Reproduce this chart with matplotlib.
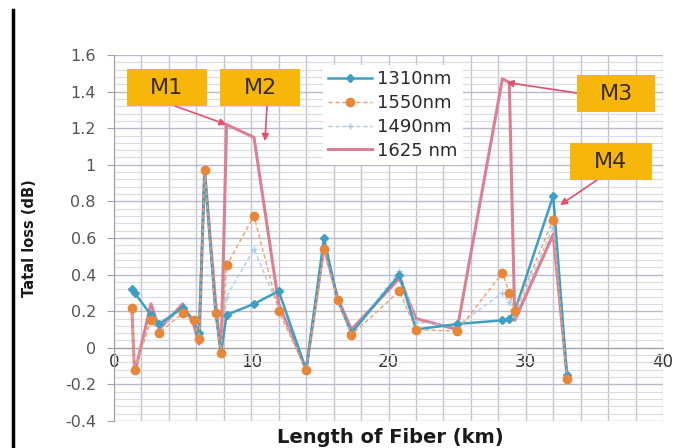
import matplotlib
matplotlib.use("Agg")
import matplotlib.pyplot as plt
from matplotlib.lines import Line2D
from matplotlib.patches import Rectangle
from matplotlib.ticker import MultipleLocator

# ---- data ----
x_km = [1.3, 1.5, 2.7, 3.3, 5.0, 5.8, 6.2, 6.6, 7.4, 7.8, 8.2, 10.2, 12.0,
        14.0, 15.3, 16.3, 17.3, 20.8, 22.0, 25.0, 28.3, 28.8, 29.2, 32.0, 33.0]
loss_1310 = [0.32, 0.30, 0.18, 0.13, 0.22, 0.15, 0.08, 0.97, 0.19, -0.03, 0.18, 0.24, 0.31,
             -0.12, 0.60, 0.26, 0.08, 0.40, 0.10, 0.13, 0.15, 0.16, 0.20, 0.83, -0.15]
loss_1550 = [0.22, -0.12, 0.15, 0.08, 0.19, 0.15, 0.05, 0.97, 0.19, -0.03, 0.45, 0.72, 0.20,
             -0.12, 0.54, 0.26, 0.07, 0.31, 0.10, 0.09, 0.41, 0.30, 0.20, 0.70, -0.17]
loss_1490 = [0.22, -0.12, 0.16, 0.10, 0.22, 0.15, 0.06, 0.97, 0.20, -0.03, 0.28, 0.54, 0.22,
             -0.12, 0.60, 0.26, 0.08, 0.42, 0.14, 0.12, 0.30, 0.25, 0.18, 0.66, -0.13]
loss_1625 = [0.22, -0.14, 0.24, 0.10, 0.24, 0.13, 0.02, 0.97, 0.25, -0.04, 1.22, 1.15, 0.24,
             -0.12, 0.55, 0.27, 0.10, 0.38, 0.16, 0.10, 1.47, 1.45, 0.15, 0.62, -0.15]
series_labels = ["1310nm", "1550nm", "1490nm", "1625 nm"]
y_ticks = [-0.4, -0.2, 0, 0.2, 0.4, 0.6, 0.8, 1, 1.2, 1.4, 1.6]
y_tick_labels = ["-0.4", "-0.2", "0", "0.2", "0.4", "0.6", "0.8", "1", "1.2", "1.4", "1.6"]
x_ticks = [0, 10, 20, 30, 40]
mark_names = ["M1", "M2", "M3", "M4"]
mark_targets = [(8.2, 1.22), (11.0, 1.13), (28.6, 1.45), (32.5, 0.78)]

plt.rcParams['font.family'] = ['DejaVu Sans']

W, H = 673, 448
fig = plt.figure(figsize=(W / 100, H / 100), dpi=100)
fig.patch.set_facecolor('white')

def fx(px):
    return px / W

def fy(py):
    return 1 - py / H

ax = fig.add_axes([fx(114), fy(421), fx(663) - fx(114), fy(55) - fy(421)])
ax.set_xlim(0, 40)
ax.set_ylim(-0.4, 1.6)

# grid
ax.xaxis.set_major_locator(MultipleLocator(10))
ax.xaxis.set_minor_locator(MultipleLocator(2))
ax.set_yticks(y_ticks)
ax.set_yticklabels(y_tick_labels)
ax.yaxis.set_minor_locator(MultipleLocator(0.04))
ax.grid(which='major', axis='y', color='#B9B9C9', linewidth=1.0)
ax.grid(which='minor', axis='y', color='#DADAE5', linewidth=0.8)
ax.grid(which='both', axis='x', color='#C4C4D0', linewidth=1.0)
ax.set_axisbelow(True)

for s in ['top', 'right']:
    ax.spines[s].set_visible(False)
ax.spines['left'].set_color('#A0A0A8')
ax.spines['bottom'].set_position(('data', 0))
ax.spines['bottom'].set_color('#A0A0A8')

ax.tick_params(axis='y', which='major', length=5, color='#A0A0A8', labelsize=11.5,
               labelcolor='#555555', pad=8)
ax.tick_params(axis='y', which='minor', length=0)
ax.tick_params(axis='x', which='both', length=0, labelsize=12, labelcolor='#333333', pad=4)
ax.set_xticks(x_ticks)
ax.set_xticklabels([str(v) for v in x_ticks])

# series
ax.plot(x_km, loss_1625, color='#DB7F95', linewidth=2.2, label=series_labels[3], zorder=3)
ax.plot(x_km, loss_1490, color='#A9CBE8', linewidth=1.0, linestyle=(0, (3, 2)),
        marker='+', markersize=5, markeredgewidth=1.0, label=series_labels[2], zorder=4)
ax.plot(x_km, loss_1550, color='#F0A066', linewidth=1.0, linestyle=(0, (3, 2)),
        marker='o', markersize=6, markerfacecolor='#E8873A', markeredgecolor='#E8873A',
        label=series_labels[1], zorder=5)
ax.plot(x_km, loss_1310, color='#3E9EC4', linewidth=1.8, marker='D', markersize=4,
        label=series_labels[0], zorder=4)

# legend
handles, labels = ax.get_legend_handles_labels()
order = [3, 2, 1, 0]
leg = ax.legend([handles[i] for i in order], [labels[i] for i in order],
                loc='upper left', bbox_to_anchor=(fx(314), fy(56)),
                bbox_transform=fig.transFigure, frameon=True, fancybox=False,
                edgecolor='none', facecolor='white', framealpha=1.0,
                fontsize=13, handlelength=2.4, labelspacing=0.32, borderpad=0.3,
                handletextpad=0.3)
for t in leg.get_texts():
    t.set_color('#2A2A2A')

# annotation boxes (pixel layout)
boxes = [(127, 69, 80, 37), (220, 69, 80, 37), (577, 75, 78, 37), (570, 143, 82, 37)]
starts = [(175, 106), (267, 106), (577, 93), (625, 161)]
for name, (bx, by, bw, bh), tgt, st in zip(mark_names, boxes, mark_targets, starts):
    rect = Rectangle((fx(bx), fy(by + bh)), fx(bw), bh / H, transform=fig.transFigure,
                     facecolor='#F6B60A', edgecolor='none', zorder=10)
    fig.patches.append(rect)
    fig.text(fx(bx + bw / 2), fy(by + bh / 2), name, ha='center', va='center',
             fontsize=16, color='#3A2A10', zorder=11)
    ax.annotate('', xy=tgt, xycoords='data', xytext=(fx(st[0]), fy(st[1])),
                textcoords='figure fraction',
                arrowprops=dict(arrowstyle='-|>', color='#E2506C', lw=1.2,
                                mutation_scale=10, shrinkA=0, shrinkB=0),
                zorder=12)

# axis titles
fig.text(fx(390), fy(437), "Length of Fiber (km)", ha='center', va='center',
         fontsize=14, fontweight='bold', color='#1A1A1A')
fig.text(fx(29), fy(238), "Tatal loss (dB)", ha='center', va='center', rotation=90,
         fontsize=10.5, fontweight='bold', color='#1A1A1A')

# left black border line
fig.add_artist(Line2D([fx(13), fx(13)], [fy(10), 0], transform=fig.transFigure,
                      color='black', linewidth=2.5))

fig.savefig('out.png', dpi=100, facecolor='white')
